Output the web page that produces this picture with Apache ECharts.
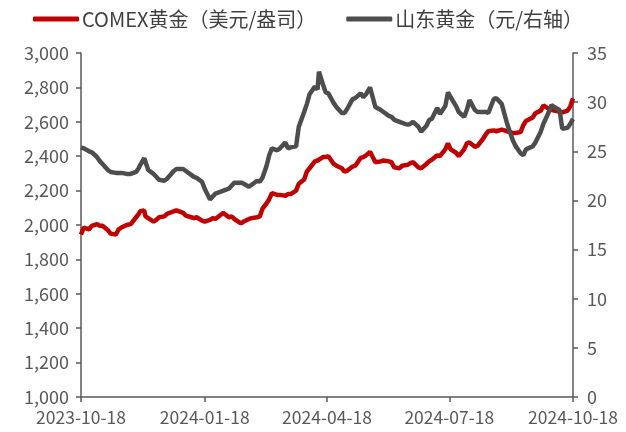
<!DOCTYPE html>
<html>
<head>
<meta charset="utf-8">
<script src="https://cdn.jsdelivr.net/npm/echarts@6/dist/echarts.min.js"></script>
<style>html,body{margin:0;padding:0;background:#fff}#c{width:626px;height:432px}</style>
</head>
<body>
<div id="c"></div>
<script>
var dates = ['2023-10-18','2023-10-20','2023-10-24','2023-10-26','2023-10-30','2023-11-01','2023-11-03','2023-11-07','2023-11-09','2023-11-13','2023-11-15','2023-11-17','2023-11-21','2023-11-24','2023-11-28','2023-11-30','2023-12-01','2023-12-04','2023-12-05','2023-12-07','2023-12-11','2023-12-13','2023-12-15','2023-12-19','2023-12-21','2023-12-26','2023-12-28','2024-01-02','2024-01-04','2024-01-08','2024-01-10','2024-01-12','2024-01-16','2024-01-18','2024-01-22','2024-01-24','2024-01-26','2024-01-30','2024-02-01','2024-02-05','2024-02-07','2024-02-09','2024-02-14','2024-02-16','2024-02-20','2024-02-22','2024-02-26','2024-02-28','2024-03-01','2024-03-04','2024-03-06','2024-03-08','2024-03-12','2024-03-14','2024-03-18','2024-03-20','2024-03-22','2024-03-26','2024-03-28','2024-04-01','2024-04-03','2024-04-05','2024-04-09','2024-04-11','2024-04-12','2024-04-15','2024-04-17','2024-04-19','2024-04-23','2024-04-25','2024-04-29','2024-05-01','2024-05-03','2024-05-07','2024-05-09','2024-05-13','2024-05-15','2024-05-17','2024-05-20','2024-05-22','2024-05-24','2024-05-28','2024-05-30','2024-06-03','2024-06-05','2024-06-07','2024-06-11','2024-06-13','2024-06-17','2024-06-19','2024-06-21','2024-06-25','2024-06-27','2024-07-01','2024-07-03','2024-07-05','2024-07-09','2024-07-11','2024-07-15','2024-07-17','2024-07-19','2024-07-23','2024-07-25','2024-07-29','2024-07-31','2024-08-02','2024-08-06','2024-08-08','2024-08-12','2024-08-14','2024-08-16','2024-08-20','2024-08-22','2024-08-26','2024-08-28','2024-08-30','2024-09-03','2024-09-05','2024-09-09','2024-09-11','2024-09-13','2024-09-18','2024-09-20','2024-09-24','2024-09-26','2024-09-30','2024-10-02','2024-10-04','2024-10-08','2024-10-10','2024-10-14','2024-10-16','2024-10-18'];

var comex = [1945,1985,1975,1995,2005,1995,1995,1970,1950,1945,1975,1985,2000,2005,2045,2065,2080,2085,2050,2040,2020,2030,2045,2050,2065,2080,2085,2070,2055,2045,2040,2045,2025,2020,2030,2040,2035,2060,2070,2045,2050,2035,2010,2020,2035,2040,2045,2050,2095,2125,2150,2185,2175,2175,2170,2180,2180,2200,2240,2265,2310,2330,2370,2375,2385,2395,2395,2400,2355,2345,2330,2310,2315,2340,2345,2390,2395,2405,2425,2395,2365,2370,2375,2370,2365,2335,2330,2345,2350,2360,2365,2335,2330,2355,2370,2380,2405,2400,2440,2475,2440,2420,2400,2440,2475,2480,2455,2460,2500,2525,2545,2550,2545,2555,2550,2545,2535,2535,2540,2580,2605,2625,2650,2665,2695,2675,2670,2665,2660,2655,2665,2690,2735];

var shandong = [25.4,25.3,25.0,24.9,24.4,24.0,23.7,23.1,22.9,22.8,22.8,22.8,22.7,22.7,22.9,23.3,23.6,24.3,23.9,23.1,22.7,22.4,22.1,22.0,22.2,23.0,23.2,23.2,23.0,22.6,22.4,22.3,21.9,21.2,20.1,20.4,20.7,20.9,21.0,21.2,21.5,21.8,21.8,21.7,21.4,21.6,22.0,21.9,22.3,23.5,24.6,25.3,25.1,25.3,25.9,25.3,25.4,25.5,27.5,29.0,29.8,30.8,31.6,31.3,33.1,31.8,31.0,30.9,29.9,29.5,28.9,28.9,29.3,30.3,30.4,30.9,30.5,30.8,31.5,30.5,29.5,29.2,29.0,28.6,28.5,28.2,28.0,27.9,27.7,27.8,28.0,27.5,27.0,27.6,28.2,28.3,29.4,28.8,29.6,31.0,30.5,29.6,29.0,28.5,29.2,30.2,29.2,29.0,29.0,29.0,28.9,30.3,30.4,29.8,28.8,27.8,26.2,25.6,24.8,24.6,25.2,25.5,25.9,27.0,27.8,29.0,29.7,29.5,29.2,27.3,27.4,27.8,28.3];

var xTickLabels = ['2023-10-18','2024-01-18','2024-04-18','2024-07-18','2024-10-18'];
var seriesNames = ['COMEX黄金（美元/盎司）','山东黄金（元/右轴）'];

var FONT = '"Noto Sans CJK SC", "Noto Sans", sans-serif';
var AXIS_COLOR = '#595959';
var TEXT_COLOR = '#595959';

function dayOf(s){
  var p = s.split('-');
  return Math.round((Date.UTC(+p[0], +p[1]-1, +p[2]) - Date.UTC(2023, 9, 18)) / 86400000);
}
var tickDays = xTickLabels.map(dayOf);
var labelByDay = {};
tickDays.forEach(function(d,i){ labelByDay[d] = xTickLabels[i]; });

var chart = echarts.init(document.getElementById('c'), null, {renderer:'canvas'});
chart.setOption({
  animation: false,
  textStyle: {fontFamily: FONT},
  legend: {
    top: 4, left: 28,
    itemWidth: 46, itemHeight: 5, itemGap: 30,
    icon: 'roundRect',
    textStyle: {fontSize: 20, color: '#404040', fontFamily: FONT, padding: [0,0,0,-2]},
    data: seriesNames
  },
  grid: {left: 81, right: 53, top: 53, bottom: 35, containLabel: false},
  xAxis: {
    type: 'value',
    min: tickDays[0],
    max: tickDays[tickDays.length-1],
    axisLine: {lineStyle: {color: AXIS_COLOR, width: 1.5}},
    axisTick: {show: true, customValues: tickDays, length: 5, lineStyle: {color: AXIS_COLOR, width: 1.5}},
    axisLabel: {
      customValues: tickDays,
      margin: 12,
      fontSize: 17.5, color: TEXT_COLOR, fontFamily: FONT,
      hideOverlap: false,
      formatter: function(v){ return labelByDay[Math.round(v)] || ''; }
    },
    splitLine: {show: false}
  },
  yAxis: [{
    type: 'value', min: 1000, max: 3000, interval: 200,
    axisLine: {show: true, lineStyle: {color: AXIS_COLOR, width: 1.5}},
    axisTick: {show: true, length: 5, lineStyle: {color: AXIS_COLOR, width: 1.5}},
    axisLabel: {margin: 12, fontSize: 18, color: TEXT_COLOR, fontFamily: FONT,
      formatter: function(v){ return v.toLocaleString('en-US'); }},
    splitLine: {show: false}
  },{
    type: 'value', min: 0, max: 35, interval: 5, position: 'right',
    axisLine: {show: true, lineStyle: {color: AXIS_COLOR, width: 1.5}},
    axisTick: {show: true, length: 5, lineStyle: {color: AXIS_COLOR, width: 1.5}},
    axisLabel: {margin: 14, fontSize: 18, color: TEXT_COLOR, fontFamily: FONT},
    splitLine: {show: false}
  }],
  series: [{
    name: seriesNames[0], type: 'line', yAxisIndex: 0,
    data: dates.map(function(d,i){ return [dayOf(d), comex[i]]; }),
    showSymbol: false, symbol: 'none',
    lineStyle: {color: '#C00000', width: 4.5},
    itemStyle: {color: '#C00000'}
  },{
    name: seriesNames[1], type: 'line', yAxisIndex: 1,
    data: dates.map(function(d,i){ return [dayOf(d), shandong[i]]; }),
    showSymbol: false, symbol: 'none',
    lineStyle: {color: '#4D4D4D', width: 4.5},
    itemStyle: {color: '#4D4D4D'}
  }]
});
</script>
</body>
</html>
